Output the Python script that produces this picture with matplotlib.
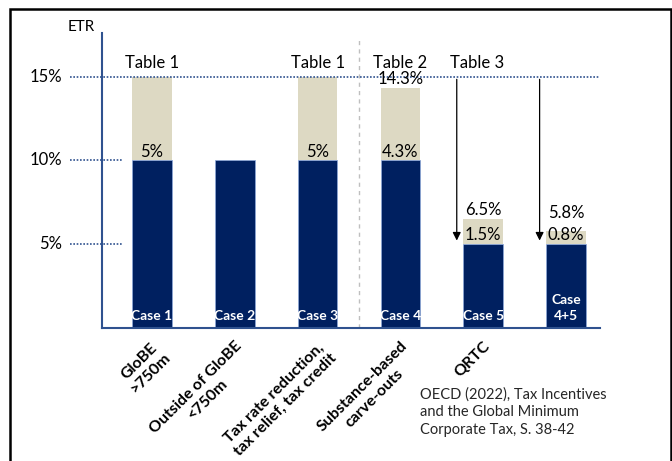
import matplotlib.pyplot as plt
from matplotlib.patches import Rectangle
from matplotlib import transforms

plt.rcParams['font.family'] = ['Lato', 'DejaVu Sans']

# Data
cases = ["Case 1", "Case 2", "Case 3", "Case 4", "Case 5", "Case\n4+5"]
categories = ["GloBE\n>750m", "Outside of GloBE\n<750m",
              "Tax rate reduction,\ntax relief, tax credit",
              "Substance-based\ncarve-outs", "QRTC", ""]
base_etr = [10, 10, 10, 10, 5, 5]
top_up = [5, 0, 5, 4.3, 1.5, 0.8]
top_labels = ["5%", "", "5%", "4.3%", "1.5%", "0.8%"]
total_labels = ["", "", "", "14.3%", "6.5%", "5.8%"]
tables = ["Table 1", "", "Table 1", "Table 2", "", ""]
ticks = [5, 10, 15]

navy = "#002060"
beige = "#DDD9C3"
axcol = "#2F528F"

fig = plt.figure(figsize=(6.72, 4.61), dpi=100, facecolor='white')
ax = fig.add_axes([0.152, 0.2885, 0.741, 0.640])
x = list(range(len(cases)))

ax.bar(x, base_etr, width=0.48, color=navy, edgecolor="#8EA9DB", linewidth=0.5, zorder=2)
ax.bar(x, top_up, width=0.48, bottom=base_etr, color=beige, zorder=2)

ax.set_xlim(-0.6, 5.41)
ax.set_ylim(0, 17.6)

for s in ["top", "right"]:
    ax.spines[s].set_visible(False)
for s in ["left", "bottom"]:
    ax.spines[s].set_color(axcol)
    ax.spines[s].set_linewidth(1.5)

# y ticks drawn as text + dotted guide lines
ax.set_yticks([])
trans = transforms.blended_transform_factory(ax.transAxes, ax.transData)
for t in ticks:
    ax.text(-0.08, t, "{}%".format(t), transform=trans, ha='right', va='center', fontsize=12)
    right = 1.0 if t == 15 else 0.04
    ax.plot([-0.064, right], [t, t], transform=trans, color=axcol, linestyle=(0, (1, 1)),
            linewidth=1.2, clip_on=False, zorder=3)
ax.text(-0.015, 17.55, "ETR", transform=trans, ha='right', va='bottom', fontsize=11, clip_on=False)

# x tick labels
ax.set_xticks(x)
ax.set_xticklabels(categories, rotation=45, ha='right', rotation_mode='anchor',
                   fontsize=11.5, fontweight='bold', multialignment='center')
ax.tick_params(axis='x', length=0, pad=8)

# labels on bars
for i in x:
    ax.text(i, 0.35, cases[i], ha='center', va='bottom', color='white', fontsize=10,
            fontweight='bold', zorder=4, linespacing=1.45)
    if top_labels[i]:
        ax.text(i, base_etr[i] + 0.05, top_labels[i], ha='center', va='bottom', fontsize=12, zorder=4)
    if total_labels[i]:
        ax.text(i, base_etr[i] + top_up[i] + 0.05 + (0.55 if i == 5 else 0), total_labels[i],
                ha='center', va='bottom', fontsize=12, zorder=4)
    if tables[i]:
        ax.text(i, 15.35, tables[i], ha='center', va='bottom', fontsize=12)
ax.text(3.92, 15.35, "Table 3", ha='center', va='bottom', fontsize=12)

# separator and arrows
ax.plot([2.5, 2.5], [0, 17.2], color='#BFBFBF', linestyle=(0, (3, 3)), linewidth=1, zorder=1)
for i in [4, 5]:
    ax.annotate("", xy=(i - 0.32, 5.05), xytext=(i - 0.32, 15),
                arrowprops=dict(arrowstyle='-|>', color='black', lw=0.9, mutation_scale=12))

# source note
fig.text(0.625, 0.052, "OECD (2022), Tax Incentives\nand the Global Minimum\nCorporate Tax, S. 38-42",
         ha='left', va='bottom', fontsize=10.5, color='#262626', linespacing=1.35)

# frame around the whole graphic
fig.patches.append(Rectangle((0.015, -0.1), 0.983, 1.08, transform=fig.transFigure,
                             fill=False, edgecolor='black', linewidth=1.8))

plt.savefig("out.png", dpi=100)
